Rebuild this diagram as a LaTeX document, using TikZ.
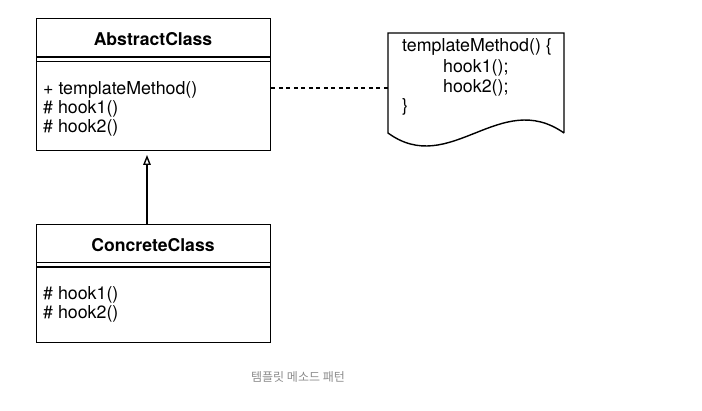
\documentclass[tikz,border=0pt]{standalone}
\usepackage{fontspec}
\setmainfont{TeX Gyre Heros}
\newfontfamily\krfont{Noto Sans CJK KR}
\usetikzlibrary{arrows.meta}

\tikzset{
  classbox/.style={draw,line width=1.4pt,minimum width=234pt,inner sep=0pt,anchor=north west},
  member/.style={anchor=base west,inner sep=0pt,font=\fontsize{17.8}{20}\selectfont},
  classname/.style={inner sep=0pt,font=\fontsize{17.6}{20}\selectfont\bfseries},
}

\begin{document}
\begin{tikzpicture}[x=1pt,y=-1pt]
\useasboundingbox (0,0) rectangle (702,410);
% AbstractClass
\node[classbox,minimum height=132pt] (abstract) at (36,18) {};
\draw[line width=1.4pt] (36,57) -- (270,57) (36,61.5) -- (270,61.5);
\node[classname] (abstractname) at (153,39) {AbstractClass};
\node[member] (tm) at (43,94.5) {+ templateMethod()};
\node[member] (ah1) at (43,113.5) {\# hook1()};
\node[member] (ah2) at (43,132.5) {\# hook2()};
% ConcreteClass
\node[classbox,minimum height=118pt] (concrete) at (36,224) {};
\draw[line width=1.4pt] (36,262.5) -- (270,262.5) (36,267) -- (270,267);
\node[classname] (concretename) at (153,245.5) {ConcreteClass};
\node[member] (ch1) at (43,299) {\# hook1()};
\node[member] (ch2) at (43,318) {\# hook2()};
% note
\coordinate (note) at (388,88);
\draw[line width=1.4pt] (564,133) -- (564,33) -- (388,33) -- (388,133)
  .. controls (450,178) and (500,88) .. (564,133);
\node[member] (n1) at (402,51.5) {templateMethod() \{};
\node[member] (n2) at (443,72) {hook1();};
\node[member] (n3) at (443,92) {hook2();};
\node[member] (n4) at (402,111.5) {\}};
% connectors
\draw[line width=1.4pt,-{Triangle[open,length=10pt,width=7.5pt]},shorten >=3.5pt]
  (concrete.north -| 147,0) -- (abstract.south -| 147,0);
\draw[line width=1.1pt,dash pattern=on 4pt off 3.5pt] (abstract.east |- note) -- (note);
% caption
\node[inner sep=0pt,text=black!45,font=\krfont\fontsize{12}{14}\selectfont] (caption) at (298,377) {템플릿 메소드 패턴};
\end{tikzpicture}
\end{document}
